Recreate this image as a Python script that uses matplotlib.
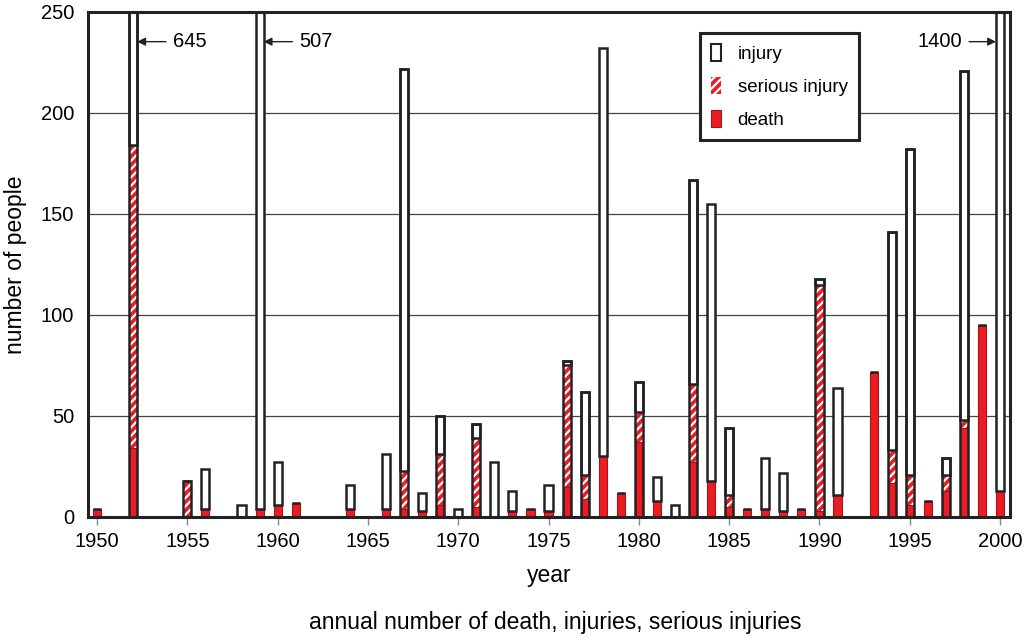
import numpy as np
import matplotlib
matplotlib.use("Agg")
import matplotlib.pyplot as plt
from matplotlib.patches import Patch

plt.rcParams['font.family'] = ['Liberation Sans', 'DejaVu Sans']
plt.rcParams['hatch.linewidth'] = 1.6

# annual counts (per category, stacked: death, serious injury, injury)
years = [1950, 1952, 1955, 1956, 1958, 1959, 1960, 1961, 1964, 1966, 1967, 1968,
         1969, 1970, 1971, 1972, 1973, 1974, 1975, 1976, 1977, 1978, 1979, 1980,
         1981, 1982, 1983, 1984, 1985, 1986, 1987, 1988, 1989, 1990, 1991, 1993,
         1994, 1995, 1996, 1997, 1998, 1999, 2000]
death = [4, 34, 0, 4, 0, 4, 6, 7, 4, 4, 4, 3, 6, 0, 5, 0, 3, 4, 3, 15, 9, 30,
         12, 37, 8, 0, 27, 18, 5, 4, 4, 3, 4, 3, 11, 72, 17, 6, 8, 13, 44, 95, 13]
serious = [0, 150, 18, 0, 0, 0, 0, 0, 0, 0, 19, 0, 25, 0, 34, 0, 0, 0, 0, 60, 12,
           0, 0, 15, 0, 0, 39, 0, 6, 0, 0, 0, 0, 112, 0, 0, 16, 15, 0, 8, 4, 0, 0]
injury = [0, 461, 0, 20, 6, 503, 21, 0, 12, 27, 199, 9, 19, 4, 7, 27, 10, 0, 13,
          2, 41, 202, 0, 15, 12, 6, 101, 137, 33, 0, 25, 19, 0, 3, 53, 0, 108, 161,
          0, 8, 173, 0, 1387]

# totals that run off the top of the chart
offscale_years = [1952, 1959, 2000]
offscale_labels = ['645', '507', '1400']

red = '#ed1c24'
w = 0.45

fig = plt.figure(figsize=(10.28, 6.37), dpi=100)
ax = fig.add_axes([0.0856, 0.1884, 0.8969, 0.7928])

x = np.array(years)
d = np.array(death)
s = np.array(serious)
inj = np.array(injury)

ax.bar(x, d, width=w, color=red, edgecolor='#9a1a1a', linewidth=0.8, zorder=3)
ax.bar(x, s, width=w, bottom=d, color=red, edgecolor='white', hatch='////',
       linewidth=0, zorder=3)
ax.bar(x, inj, width=w, bottom=d + s, color='white', edgecolor='#222222',
       linewidth=1.8, zorder=3)
# outline of bars that have a serious-injury part
mask = s > 0
ax.bar(x[mask], (d + s + inj)[mask], width=w, color='none', edgecolor='#222222',
       linewidth=1.8, zorder=4)

ax.set_xlim(1949.5, 2000.55)
ax.set_ylim(0, 250)
ax.set_xticks(range(1950, 2001, 5))
ax.set_yticks(range(0, 251, 50))
ax.tick_params(axis='x', direction='out', length=6, width=1, color='#888888',
               labelsize=14.5, pad=5)
ax.tick_params(axis='y', length=0, labelsize=14.5, pad=10)
ax.yaxis.grid(True, color='#444444', linewidth=0.9, zorder=0)
ax.set_axisbelow(True)
for sp in ax.spines.values():
    sp.set_linewidth(2.2)
    sp.set_color('#222222')
    sp.set_zorder(5)

ax.set_ylabel('number of people', fontsize=16.5, labelpad=10)
ax.set_xlabel('year', fontsize=16.5, labelpad=9)
fig.text(0.54, 0.004, 'annual number of death, injuries, serious injuries',
         ha='center', va='bottom', fontsize=16.5)

# arrows for off-scale bars
ay = 235.3
arrow = dict(arrowstyle='-|>', color='#222222', lw=1, shrinkA=3, shrinkB=0,
             mutation_scale=12)
ax.annotate(offscale_labels[0], xy=(offscale_years[0] + w / 2, ay),
            xytext=(offscale_years[0] + 2.2, ay), ha='left', va='center',
            fontsize=14.5, arrowprops=arrow)
ax.annotate(offscale_labels[1], xy=(offscale_years[1] + w / 2, ay),
            xytext=(offscale_years[1] + 2.2, ay), ha='left', va='center',
            fontsize=14.5, arrowprops=arrow)
ax.annotate(offscale_labels[2], xy=(offscale_years[2] - w / 2, ay),
            xytext=(offscale_years[2] - 2.1, ay), ha='right', va='center',
            fontsize=14.5, arrowprops=arrow)

handles = [Patch(facecolor='white', edgecolor='#222222', linewidth=1.5, label='injury'),
           Patch(facecolor=red, edgecolor='white', hatch='////', linewidth=0,
                 label='serious injury'),
           Patch(facecolor=red, edgecolor='#9a1a1a', linewidth=0.8, label='death')]
leg = ax.legend(handles=handles, loc='upper left', bbox_to_anchor=(0.664, 0.958),
                fontsize=13.5, frameon=True, fancybox=False, framealpha=1,
                handlelength=0.5, handleheight=1.0, handletextpad=0.9,
                labelspacing=0.75, borderpad=0.6, borderaxespad=0)
leg.get_frame().set_edgecolor('#222222')
leg.get_frame().set_linewidth(2.2)
leg.set_zorder(6)

fig.savefig('out.png', dpi=100)
